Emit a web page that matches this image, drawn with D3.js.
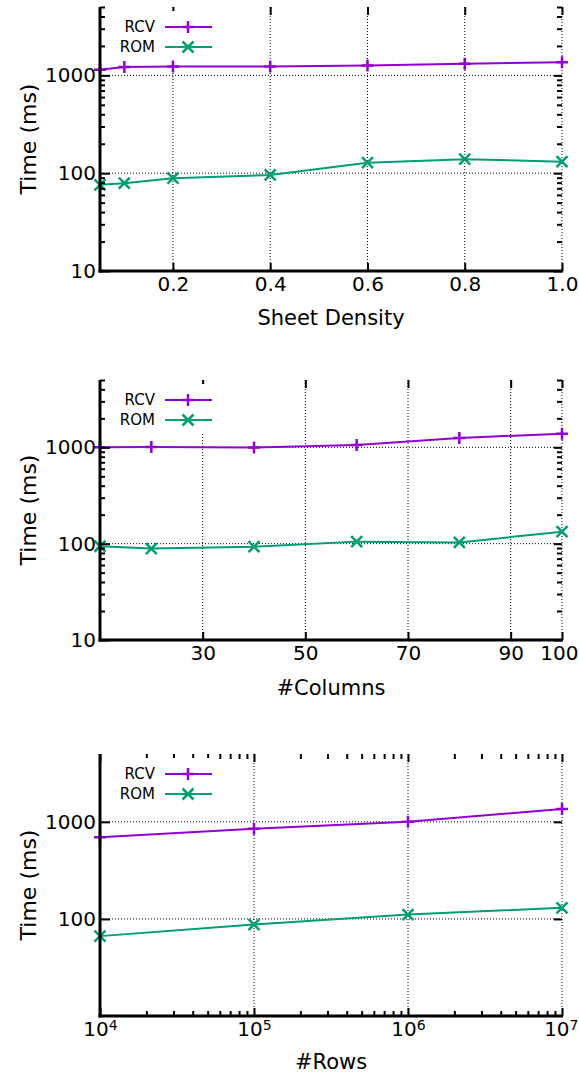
<!DOCTYPE html>
<html>
<head>
  <meta charset="utf-8">
  <title></title>
  <style>
    body { margin: 0; background: #fff; }
    text { font-family: "DejaVu Sans", Verdana, sans-serif; fill: #000; }
  </style>
</head>
<body>
  <script src="https://d3js.org/d3.v7.min.js" charset="utf-8"></script>
  <script type="text/javascript">
    // values
    var seriesNames = ["RCV", "ROM"];
    var densityX = [0.05, 0.1, 0.2, 0.4, 0.6, 0.8, 1.0];
    var densityRCV = [1143, 1216, 1235, 1235, 1265, 1316, 1358];
    var densityROM = [76, 79, 89, 96, 128, 139, 131];
    var densityTicks = [0.2, 0.4, 0.6, 0.8, 1.0];

    var columnsX = [10, 20, 40, 60, 80, 100];
    var columnsRCV = [1000, 1010, 995, 1057, 1250, 1386];
    var columnsROM = [94, 89, 93, 105, 103, 133];
    var columnsTicks = [30, 50, 70, 90, 100];

    var rowsX = [1e4, 1e5, 1e6, 1e7];
    var rowsRCV = [695, 848, 1000, 1359];
    var rowsROM = [66.5, 87.5, 111, 130];
    var rowsTicks = [1e4, 1e5, 1e6, 1e7];

    var width = 579;
    var height = 1074;
    var colors = ["#9400d3", "#009e73"];
    var left = 100, right = 562;

    var svg = d3.select('body')
      .append("svg")
      .attr("width", width)
      .attr("height", height);

    function logMinor(lo, hi) {
      var out = [];
      for (var p = Math.floor(Math.log10(lo)); p <= Math.ceil(Math.log10(hi)); p++) {
        for (var k = 2; k <= 9; k++) {
          var v = k * Math.pow(10, p);
          if (v > lo && v <= hi) out.push(v);
        }
      }
      return out;
    }

    function drawPanel(opt) {
      var g = svg.append("g");
      var x = opt.logX ? d3.scaleLog() : d3.scaleLinear();
      x.domain(opt.xDomain).range([left, right]);
      var y = d3.scaleLog().domain([10, 5000]).range([opt.bottom, opt.top]);

      var yMajor = opt.yLabels;
      var yMinor = opt.yMinor ? logMinor(10, 5000).filter(function(v) { return yMajor.indexOf(v) < 0; }) : [];

      // grid
      g.selectAll(".hgrid").data([100, 1000]).enter().append("line")
        .attr("x1", left).attr("x2", right)
        .attr("y1", function(d) { return y(d); }).attr("y2", function(d) { return y(d); })
        .attr("stroke", "#000").attr("stroke-width", 1).attr("stroke-dasharray", "1,2");
      g.selectAll(".vgrid").data(opt.xTicks).enter().append("line")
        .attr("x1", function(d) { return x(d); }).attr("x2", function(d) { return x(d); })
        .attr("y1", opt.top).attr("y2", opt.bottom)
        .attr("stroke", "#000").attr("stroke-width", 1).attr("stroke-dasharray", "1,2");

      // mirror ticks on top and right
      var xMinor = opt.logX ? logMinor(opt.xDomain[0], opt.xDomain[1]).filter(function(v) { return opt.xTicks.indexOf(v) < 0; }) : [];
      g.append("g").attr("transform", "translate(0," + opt.top + ")")
        .call(d3.axisTop(x).tickValues(opt.xTicks).tickSize(-8).tickFormat(""))
        .call(styleAxis);
      if (xMinor.length) {
        g.append("g").attr("transform", "translate(0," + opt.top + ")")
          .call(d3.axisTop(x).tickValues(xMinor).tickSize(-5).tickFormat(""))
          .call(styleAxis);
      }
      g.append("g").attr("transform", "translate(" + right + ",0)")
        .call(d3.axisRight(y).tickValues(yMajor).tickSize(-8).tickFormat(""))
        .call(styleAxis);
      if (yMinor.length) {
        g.append("g").attr("transform", "translate(" + right + ",0)")
          .call(d3.axisRight(y).tickValues(yMinor).tickSize(-5).tickFormat(""))
          .call(styleAxis);
      }

      // legend box hides grid behind it
      g.append("rect").attr("x", left + 6).attr("y", opt.top + 4)
        .attr("width", 110).attr("height", 48).attr("fill", "#fff");

      // series
      var series = [opt.rcv, opt.rom];
      series.forEach(function(vals, i) {
        var pts = opt.xs.map(function(v, j) { return [x(v), y(vals[j])]; });
        g.append("path").attr("d", d3.line()(pts))
          .attr("fill", "none").attr("stroke", colors[i]).attr("stroke-width", 2);
        pts.forEach(function(p) { marker(g, p[0], p[1], i); });
      });

      // legend
      seriesNames.forEach(function(name, i) {
        var ly = opt.top + 20 + i * 20;
        g.append("text").attr("x", 155).attr("y", ly).attr("dy", "0.35em")
          .attr("text-anchor", "end").style("font-size", "15px").text(name);
        g.append("line").attr("x1", 165).attr("x2", 212).attr("y1", ly).attr("y2", ly)
          .attr("stroke", colors[i]).attr("stroke-width", 2);
        marker(g, 188, ly, i);
      });

      // left and bottom axes
      var ya = g.append("g").attr("transform", "translate(" + left + ",0)")
        .call(d3.axisLeft(y).tickValues(yMajor).tickSize(-10).tickPadding(4).tickFormat(d3.format("d")))
        .call(styleAxis);
      ya.select(".domain").attr("d", "M0," + opt.top + "V" + (opt.bottom + 1.5))
        .attr("stroke", "#000").attr("stroke-width", 3);
      if (yMinor.length) {
        g.append("g").attr("transform", "translate(" + left + ",0)")
          .call(d3.axisLeft(y).tickValues(yMinor).tickSize(-5).tickFormat(""))
          .call(styleAxis);
      }

      var xa = g.append("g").attr("transform", "translate(0," + opt.bottom + ")")
        .call(d3.axisBottom(x).tickValues(opt.xTicks).tickSize(-8).tickPadding(6).tickFormat(opt.fmt))
        .call(styleAxis);
      xa.select(".domain").attr("d", "M" + (left - 1.5) + ",0H" + (right + 1))
        .attr("stroke", "#000").attr("stroke-width", 3);
      if (xMinor.length) {
        g.append("g").attr("transform", "translate(0," + opt.bottom + ")")
          .call(d3.axisBottom(x).tickValues(xMinor).tickSize(-5).tickFormat(""))
          .call(styleAxis);
      }
      if (opt.logX) {
        xa.selectAll(".tick text").each(function(d) {
          var t = d3.select(this).text("");
          t.append("tspan").text("10");
          t.append("tspan").attr("dy", "-0.45em").style("font-size", "14px").text(Math.round(Math.log10(d)));
        });
      }
      // keep the last labels inside the page
      xa.selectAll(".tick text").each(function(d) {
        var w = this.getComputedTextLength();
        var over = x(d) + w / 2 - (width - 1);
        if (over > 0) d3.select(this).attr("x", -over);
      });

      // titles
      g.append("text")
        .attr("transform", "translate(28," + ((opt.top + opt.bottom) / 2) + ") rotate(-90)")
        .attr("text-anchor", "middle").attr("dy", "0.35em")
        .style("font-size", "22px").text("Time (ms)");
      g.append("text").attr("x", (left + right) / 2).attr("y", opt.titleY)
        .attr("text-anchor", "middle").style("font-size", "21px").text(opt.xTitle);
    }

    function styleAxis(sel) {
      sel.select(".domain").attr("stroke", "none");
      sel.selectAll(".tick line").attr("stroke", "#000").attr("stroke-width", 2);
      sel.selectAll(".tick text").style("font-size", "20px").attr("fill", "#000")
        .style("font-family", '"DejaVu Sans", Verdana, sans-serif');
    }

    function marker(g, cx, cy, i) {
      var s = i === 0 ? 6 : 5.5;
      var d = i === 0
        ? "M" + (cx - s) + "," + cy + "H" + (cx + s) + "M" + cx + "," + (cy - s) + "V" + (cy + s)
        : "M" + (cx - s) + "," + (cy - s) + "L" + (cx + s) + "," + (cy + s) + "M" + (cx - s) + "," + (cy + s) + "L" + (cx + s) + "," + (cy - s);
      g.append("path").attr("d", d).attr("stroke", colors[i]).attr("stroke-width", 2.5).attr("fill", "none");
    }

    drawPanel({
      top: 7, bottom: 271, xs: densityX, rcv: densityRCV, rom: densityROM,
      xDomain: [0.05, 1.0], xTicks: densityTicks, fmt: d3.format(".1f"),
      yLabels: [10, 100, 1000], yMinor: true,
      xTitle: "Sheet Density", titleY: 325
    });
    drawPanel({
      top: 380, bottom: 640, xs: columnsX, rcv: columnsRCV, rom: columnsROM,
      xDomain: [10, 100], xTicks: columnsTicks, fmt: d3.format("d"),
      yLabels: [10, 100, 1000], yMinor: true,
      xTitle: "#Columns", titleY: 695
    });
    drawPanel({
      top: 754, bottom: 1016, xs: rowsX, rcv: rowsRCV, rom: rowsROM,
      xDomain: [1e4, 1e7], xTicks: rowsTicks, logX: true, fmt: d3.format("d"),
      yLabels: [100, 1000], yMinor: false,
      xTitle: "#Rows", titleY: 1069
    });
  </script>
</body>
</html>
